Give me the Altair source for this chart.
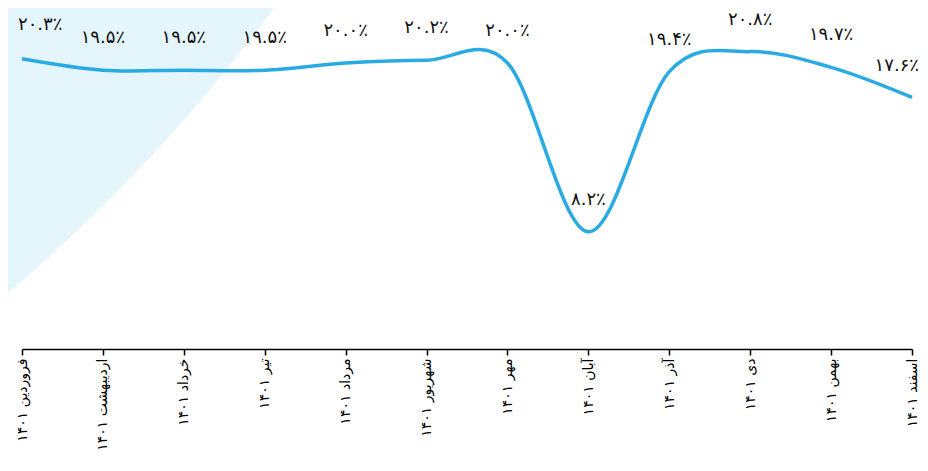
import altair as alt
import pandas as pd

months = ["فروردین ۱۴۰۱", "اردیبهشت ۱۴۰۱", "خرداد ۱۴۰۱", "تیر ۱۴۰۱", "مرداد ۱۴۰۱",
          "شهریور ۱۴۰۱", "مهر ۱۴۰۱", "آبان ۱۴۰۱", "آذر ۱۴۰۱", "دی ۱۴۰۱",
          "بهمن ۱۴۰۱", "اسفند ۱۴۰۱"]
values = [20.3, 19.5, 19.5, 19.5, 20.0, 20.2, 20.0, 8.2, 19.4, 20.8, 19.7, 17.6]
value_labels = ["۲۰.۳٪", "۱۹.۵٪", "۱۹.۵٪", "۱۹.۵٪", "۲۰.۰٪", "۲۰.۲٪",
                "۲۰.۰٪", "۸.۲٪", "۱۹.۴٪", "۲۰.۸٪", "۱۹.۷٪", "۱۷.۶٪"]

df = pd.DataFrame({"month": months, "value": values, "label": value_labels,
                   "idx": list(range(len(months)))})

FONT = "DejaVu Sans"
LINE_COLOR = "#29aae2"
VSIZE = 18

x_enc = alt.X("month:N", sort=months, scale=alt.Scale(type="point", padding=0),
              axis=alt.Axis(title=None, labelAngle=270, labelAlign="right",
                            labelBaseline="middle", labelFont=FONT, labelFontSize=14,
                            labelColor="#000000", labelPadding=3, tickSize=6,
                            tickColor="#000000", tickWidth=1.5, domainColor="#000000",
                            domainWidth=1.5, grid=False, labelOverlap=False))
y_enc = alt.Y("value:Q", scale=alt.Scale(domain=[0, 23.85], nice=False, zero=True),
              axis=None)

# decorative background disc (Vega circle radius = sqrt(size)/2)
bg = alt.Chart(pd.DataFrame({"k": [0]})).mark_circle(
    size=11155600, color="#e5f5fc", opacity=1
).encode(x=alt.value(-1094), y=alt.value(-989))

base = alt.Chart(df)

line = base.mark_line(interpolate="cardinal", color=LINE_COLOR, strokeWidth=3.5).encode(
    x=x_enc, y=y_enc)

text_mid = base.transform_filter("datum.idx > 0 && datum.idx < 11").mark_text(
    font=FONT, fontSize=VSIZE, color="#111111", baseline="middle", align="center", dy=-32
).encode(x=x_enc, y=y_enc, text="label:N")

text_first = base.transform_filter("datum.idx == 0").mark_text(
    font=FONT, fontSize=VSIZE, color="#111111", baseline="middle", align="left", dx=-4, dy=-34
).encode(x=x_enc, y=y_enc, text="label:N")

text_last = base.transform_filter("datum.idx == 11").mark_text(
    font=FONT, fontSize=VSIZE, color="#111111", baseline="middle", align="right", dx=7, dy=-31
).encode(x=x_enc, y=y_enc, text="label:N")

chart = alt.layer(bg, line, text_mid, text_first, text_last).properties(
    width=890, height=341,
    autosize=alt.AutoSizeParams(type="none"),
    padding={"left": 14, "top": 0, "right": 8, "bottom": 106},
    background="#ffffff",
).configure_view(stroke=None)

chart.save("out.html", embed_options={"renderer": "svg", "actions": False})
